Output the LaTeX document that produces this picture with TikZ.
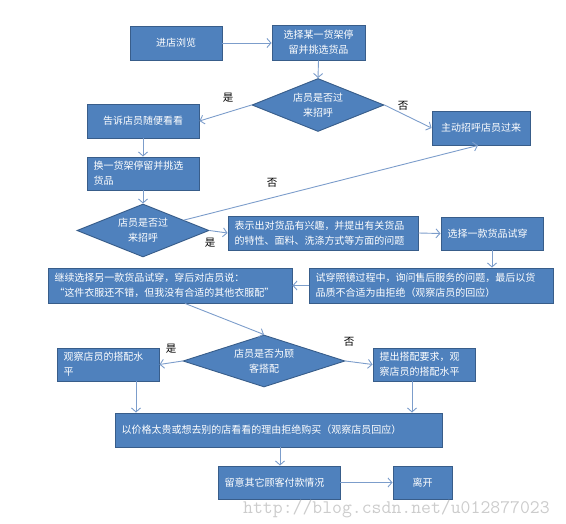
\documentclass[tikz,border=0pt]{standalone}
\usepackage{fontspec}
\newfontfamily\cjk{Noto Sans CJK SC}
\usetikzlibrary{shapes.geometric,arrows.meta}
\definecolor{boxfill}{HTML}{4F81BD}
\definecolor{boxline}{HTML}{385D8A}
\definecolor{arrowcol}{HTML}{7C9DCB}
\definecolor{wmcol}{HTML}{CCCCCC}
\tikzset{
  box/.style={draw=boxline, fill=boxfill, text=white, line width=0.9pt,
    font=\cjk\fontsize{10}{15}\selectfont, inner sep=0pt, align=center},
  lbox/.style={box, align=left},
  dia/.style={diamond, draw=boxline, fill=boxfill, line width=0.9pt, inner sep=0pt},
  dtext/.style={text=white, font=\cjk\fontsize{10}{15}\selectfont, align=center, inner sep=0pt},
  conn/.style={draw=arrowcol, line width=0.9pt, -{Straight Barb[length=4pt,width=9pt]}},
  yn/.style={font=\cjk\fontsize{10.5}{12}\selectfont, text=black, inner sep=0pt},
}
\begin{document}
\begin{tikzpicture}[x=1pt,y=-1pt]
\useasboundingbox (0,0) rectangle (566,524);
% boxes
\node[box, minimum width=92, minimum height=34] (b1) at (176,43) {进店浏览};
\node[box, minimum width=93, minimum height=35] (b2) at (318.5,42.5) {选择某一货架停\\留并挑选货品};
\node[dia, minimum width=132, minimum height=53] (d1) at (318,105) {};
\node[dtext] (d1t) at (d1.center) {店员是否过\\来招呼};
\node[box, minimum width=112, minimum height=34] (b3) at (143,121) {告诉店员随便看看};
\node[box, minimum width=98, minimum height=34] (b4) at (481,128) {主动招呼店员过来};
\node[lbox, minimum width=112, minimum height=33, text width=99] (b5) at (143,173.5) {换一货架停留并挑选\\货品};
\node[dia, minimum width=132, minimum height=53] (d2) at (143,230.5) {};
\node[dtext] (d2t) at (d2.center) {店员是否过\\来招呼};
\node[lbox, minimum width=190, minimum height=34, text width=177] (b6) at (323,233) {表示出对货品有兴趣，并提出有关货品\\的特性、面料、洗涤方式等方面的问题};
\node[lbox, minimum width=102, minimum height=33, text width=89] (b7) at (492,233.5) {选择一款货品试穿};
\node[lbox, minimum width=244, minimum height=35, text width=231] (b8) at (170,285.5) {继续选择另一款货品试穿，穿后对店员说：\\“这件衣服还不错，但我没有合适的其他衣服配”};
\node[lbox, minimum width=244, minimum height=35, text width=231] (b9) at (431,285.5) {试穿照镜过程中，询问售后服务的问题，最后以货\\品质不合适为由拒绝（观察店员的回应）};
\node[dia, minimum width=162, minimum height=52] (d3) at (264,361) {};
\node[dtext] (d3t) at (d3.center) {店员是否为顾\\客搭配};
\node[lbox, minimum width=102, minimum height=33, text width=89] (b10) at (108,364.5) {观察店员的搭配水\\平};
\node[lbox, minimum width=102, minimum height=33, text width=89] (b11) at (424,364.5) {提出搭配要求，观\\察店员的搭配水平};
\node[lbox, minimum width=327, minimum height=34, text width=314] (b12) at (278.5,430) {以价格太贵或想去别的店看看的理由拒绝购买（观察店员回应）};
\node[lbox, minimum width=122, minimum height=33, text width=109] (b13) at (279,482.5) {留意其它顾客付款情况};
\node[box, minimum width=59, minimum height=33] (b14) at (422.5,482.5) {离开};
% labels
\node[yn] (l1) at (228,98) {是};
\node[yn] (l2) at (403,106) {否};
\node[yn] (l3) at (272,183) {否};
\node[yn] (l4) at (210,243) {是};
\node[yn] (l5) at (171,349) {是};
\node[yn] (l6) at (349,342) {否};
% watermark
\node[font=\ttfamily\fontsize{19.2}{20}\selectfont, text=wmcol, inner sep=0pt, anchor=base west] (wm) at (243,513) {http://blog.csdn.net/u012877023};
% connectors
\draw[conn] (b1.east) -- (b2.west |- b1.east);
\draw[conn] (b2.south) -- (d1.north);
\draw[conn] (d1.west) -- (b3.east);
\draw[conn] (d1.east) -- (b4.west);
\draw[conn] (b3.south) -- (b5.north);
\draw[conn] (b5.south) -- (d2.north);
\draw[conn] (d2) -- ([xshift=-3]b4.south);
\draw[conn] (d2.east) -- (b6.west);
\draw[conn] (b6.east) -- (b7.west);
\draw[conn] (b7.south) -- (b7.south |- b9.north);
\draw[conn] (b9.west) -- (b8.east);
\draw[conn] ([xshift=15]b8.south) -- (d3.north);
\draw[conn] (d3.west) -- (b10.east);
\draw[conn] (d3.east) -- (b11.west);
\coordinate (c10) at ([xshift=28]b10.south);
\coordinate (c11) at ([xshift=-12]b11.south);
\draw[conn] (c10) -- (c10 |- b12.north);
\draw[conn] (c11) -- (c11 |- b12.north);
\draw[conn] ([xshift=1.5]b12.south) -- ([xshift=1.5]b12.south |- b13.north);
\draw[conn] (b13.east) -- (b14.west);
\end{tikzpicture}
\end{document}
